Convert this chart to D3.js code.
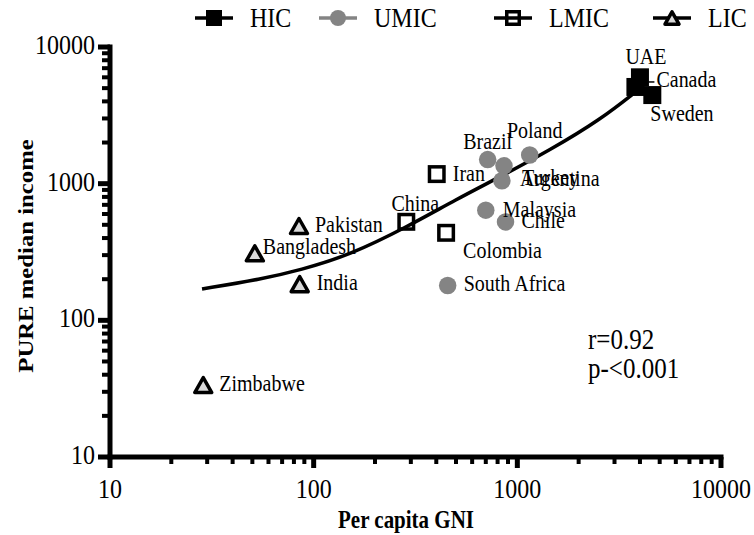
<!DOCTYPE html>
<html><head><meta charset="utf-8">
<script src="https://cdn.jsdelivr.net/npm/d3@7"></script>
<style>body{margin:0;background:#fff}svg{display:block}text{font-family:"Liberation Serif","Times New Roman",Times,serif}</style>
</head><body>
<svg id="chart" width="754" height="535"></svg>
<script>
// ---------- data ----------
const groups = ["HIC", "UMIC", "LMIC", "LIC"];

const hicNames  = ["UAE", "Canada", "Sweden"];
const hicGNI    = [4000, 3800, 4600];
const hicIncome = [6000, 5100, 4450];

const umicNames  = ["Poland", "Brazil", "Turkey", "Argentina", "Malaysia", "Chile", "South Africa"];
const umicGNI    = [1150, 715, 860, 840, 700, 875, 455];
const umicIncome = [1620, 1500, 1350, 1050, 640, 525, 180];

const lmicNames  = ["Iran", "China", "Colombia"];
const lmicGNI    = [402, 285, 447];
const lmicIncome = [1175, 526, 437];

const licNames  = ["Pakistan", "Bangladesh", "India", "Zimbabwe"];
const licGNI    = [84.7, 51.4, 85.4, 28.7];
const licIncome = [490, 309, 184, 33.6];

// fitted curve
const fitGNI    = [28.3, 55.7, 85.6, 150.6, 287, 505, 821, 1446, 2544, 3908];
const fitIncome = [169.5, 200.6, 233, 300.6, 482, 772, 1120, 1762, 2924, 4842];

const majorTicks = [10, 100, 1000, 10000];
const tickLabels = ["10", "100", "1000", "10000"];
const xTitle = "Per capita GNI";
const yTitle = "PURE median income";
const statLines = ["r=0.92", "p-<0.001"];

// ---------- layout / style ----------
const VS = 1.15; // vertical text stretch
const svg = d3.select("#chart");
const x = d3.scaleLog().domain([10, 10000]).range([110, 721]);
const y = d3.scaleLog().domain([10, 10000]).range([457, 47]);

const labelPos = {
  "UAE": [6, -13, "middle"], "Canada": [21, 0, "start"], "Sweden": [-2, 26, "start"],
  "Poland": [5, -17, "middle"], "Brazil": [0, -11, "middle"], "Turkey": [18, 19, "start"],
  "Argentina": [18, 5, "start"], "Malaysia": [17, 7, "start"], "Chile": [16, 6, "start"],
  "South Africa": [16, 6, "start"], "Iran": [16, 7, "start"], "China": [9, -11, "middle"],
  "Colombia": [17, 25, "start"], "Pakistan": [16, 6, "start"], "Bangladesh": [8, 1, "start"],
  "India": [17, 6, "start"], "Zimbabwe": [16, 6, "start"]
};

function txt(g, s, tx, ty, size, anchor, weight) {
  return g.append("text").attr("transform", `translate(${tx},${ty}) scale(1,${VS})`)
    .style("font-family", '"Liberation Serif","Times New Roman",serif')
    .attr("font-size", size).attr("text-anchor", anchor || "start")
    .attr("font-weight", weight || "normal").attr("fill", "#000").text(s);
}

// ---------- axes ----------
const minor = [];
[10, 100, 1000].forEach(d => { for (let k = 2; k <= 9; k++) minor.push(d * k); });
const ax = svg.append("g");
ax.selectAll(".xm").data(minor).join("line")
  .attr("x1", d => x(d)).attr("x2", d => x(d)).attr("y1", 457).attr("y2", 464)
  .attr("stroke", "#000").attr("stroke-width", 4);
ax.selectAll(".xM").data(majorTicks).join("line")
  .attr("x1", d => x(d)).attr("x2", d => x(d)).attr("y1", 457).attr("y2", 468)
  .attr("stroke", "#000").attr("stroke-width", 5);
ax.selectAll(".ym").data(minor).join("line")
  .attr("y1", d => y(d)).attr("y2", d => y(d)).attr("x1", 110).attr("x2", 102)
  .attr("stroke", "#000").attr("stroke-width", 4);
ax.selectAll(".yM").data(majorTicks).join("line")
  .attr("y1", d => y(d)).attr("y2", d => y(d)).attr("x1", 110).attr("x2", 98)
  .attr("stroke", "#000").attr("stroke-width", 5);
ax.append("line").attr("x1", 107.5).attr("x2", x(10000) + 2.5).attr("y1", 457).attr("y2", 457)
  .attr("stroke", "#000").attr("stroke-width", 5);
ax.append("line").attr("x1", 110).attr("x2", 110).attr("y1", y(10000) - 2.5).attr("y2", 459.5)
  .attr("stroke", "#000").attr("stroke-width", 5);

majorTicks.forEach((d, i) => {
  txt(ax, tickLabels[i], x(d), 498, 24, "middle");
  txt(ax, tickLabels[i], 95, y(d) + 7, 24, "end");
});
txt(svg, xTitle, 406, 528, 21, "middle", "bold");
svg.append("text").attr("transform", `translate(33,256) scale(1,${VS}) rotate(-90)`)
  .style("font-family", '"Liberation Serif","Times New Roman",serif')
  .attr("font-size", 21.5).attr("font-weight", "bold")
  .attr("text-anchor", "middle").text(yTitle);

// ---------- fit curve ----------
const fitPts = fitGNI.map((g, i) => [g, fitIncome[i]]);
svg.append("path").datum(fitPts)
  .attr("d", d3.line().x(d => x(d[0])).y(d => y(d[1])).curve(d3.curveBasis))
  .attr("fill", "none").attr("stroke", "#000").attr("stroke-width", 3.5);

// ---------- markers ----------
const gray = "#848484";
function marker(g, type, cx, cy, s) {
  if (type === "HIC") {
    g.append("rect").attr("x", cx - s / 2).attr("y", cy - s / 2).attr("width", s).attr("height", s).attr("fill", "#000");
  } else if (type === "UMIC") {
    g.append("circle").attr("cx", cx).attr("cy", cy).attr("r", s / 2).attr("fill", gray);
  } else if (type === "LMIC") {
    const w = s - 3.5;
    g.append("rect").attr("x", cx - w / 2).attr("y", cy - w / 2).attr("width", w).attr("height", w)
      .attr("fill", "#fff").attr("fill-opacity", 0).attr("stroke", "#000").attr("stroke-width", 3.5);
  } else {
    const h = s * 0.9, w = s;
    g.append("path").attr("d", `M${cx},${cy - h / 2 + 1.5}L${cx + w / 2 - 1.5},${cy + h / 2 - 1.5}L${cx - w / 2 + 1.5},${cy + h / 2 - 1.5}Z`)
      .attr("fill", "#d9d9d9").attr("stroke", "#000").attr("stroke-width", 3.5).attr("stroke-linejoin", "round");
  }
}

const sets = [
  ["LIC", licNames, licGNI, licIncome, 20],
  ["LMIC", lmicNames, lmicGNI, lmicIncome, 18],
  ["UMIC", umicNames, umicGNI, umicIncome, 17.5],
  ["HIC", hicNames, hicGNI, hicIncome, 18]
];
const ptG = svg.append("g"), lbG = svg.append("g");
sets.forEach(([type, names, gx, gy, s]) => {
  names.forEach((n, i) => {
    const px = x(gx[i]), py = y(gy[i]);
    marker(ptG, type, px, py, s);
    const lp = labelPos[n];
    txt(lbG, n, px + lp[0], py + lp[1], 20, lp[2]);
  });
});
{
  const px = x(hicGNI[1]), py = y(hicIncome[1]);
  lbG.append("line").attr("x1", px + 13).attr("x2", px + 19).attr("y1", py - 5).attr("y2", py - 5)
    .attr("stroke", "#000").attr("stroke-width", 1.5);
}

// ---------- stats ----------
txt(svg, statLines[0], 588, 349, 25, "start");
txt(svg, statLines[1], 588, 378, 25, "start");

// ---------- legend ----------
const legX = [214, 338, 513, 672];
const leg = svg.append("g");
groups.forEach((gname, i) => {
  const cx = legX[i], cy = 18;
  leg.append("line").attr("x1", cx - 19).attr("x2", cx + 19).attr("y1", cy).attr("y2", cy)
    .attr("stroke", gname === "UMIC" ? gray : "#000").attr("stroke-width", 3.5);
  marker(leg, gname, cx, cy, gname === "LIC" ? 17 : 16);
  txt(leg, gname, cx + 36, 27, 24, "start");
});
</script>
</body></html>
